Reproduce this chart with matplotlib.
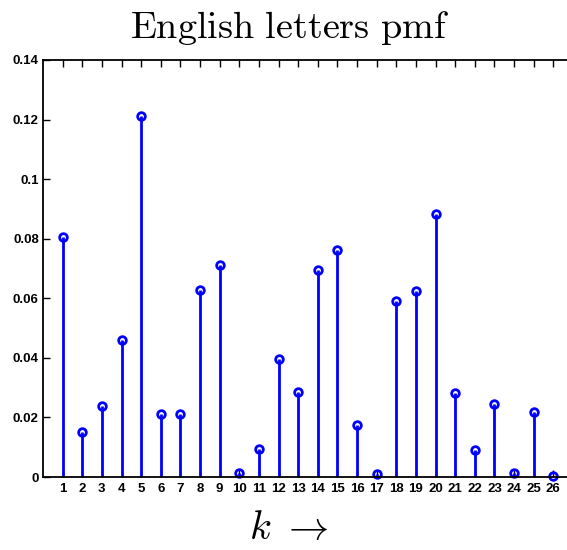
import matplotlib
matplotlib.use("Agg")
import matplotlib.pyplot as plt
import numpy as np

k = list(range(1, 27))
pmf = [0.0806, 0.0151, 0.0238, 0.0460, 0.1212, 0.0211, 0.0211, 0.0628, 0.0712,
       0.0013, 0.0094, 0.0396, 0.0285, 0.0695, 0.0762, 0.0175, 0.0010, 0.0591,
       0.0624, 0.0883, 0.0282, 0.0091, 0.0245, 0.0013, 0.0218, 0.0003]
yticks = [0, 0.02, 0.04, 0.06, 0.08, 0.1, 0.12, 0.14]
ytick_labels = ["0", "0.02", "0.04", "0.06", "0.08", "0.1", "0.12", "0.14"]

plt.rcParams['mathtext.fontset'] = 'cm'
fig = plt.figure(figsize=(5.67, 5.5), dpi=100)
ax = fig.add_axes([43/567, 73/550, 530/567, 417/550])

ml, sl, bl = ax.stem(k, pmf, linefmt='-', markerfmt='o', basefmt=' ')
plt.setp(sl, color='#0000ff', linewidth=2)
plt.setp(ml, color='#0000ff', markerfacecolor='none', markeredgewidth=2, markersize=5.5, clip_on=False)

ax.set_xlim(0, 27)
ax.set_ylim(0, 0.14)
ax.set_xticks(k)
ax.set_xticklabels([str(i) for i in k], fontsize=9.5, fontweight='bold', family='Liberation Sans')
ax.set_yticks(yticks)
ax.set_yticklabels(ytick_labels, fontsize=9.5, fontweight='bold', family='Liberation Sans')
ax.tick_params(direction='in', top=True, right=False, length=5, width=1)
ax.tick_params(axis='y', pad=3)
ax.tick_params(axis='x', pad=4)
for s in ax.spines.values():
    s.set_linewidth(1.3)

fig.text(0.51, 0.949, r'$\mathrm{English\ letters\ pmf}$', ha='center', va='center', fontsize=27.5)
fig.text(0.51, 0.04, r'$k\ \rightarrow$', ha='center', va='center', fontsize=29)

fig.savefig('out.png', dpi=100)
